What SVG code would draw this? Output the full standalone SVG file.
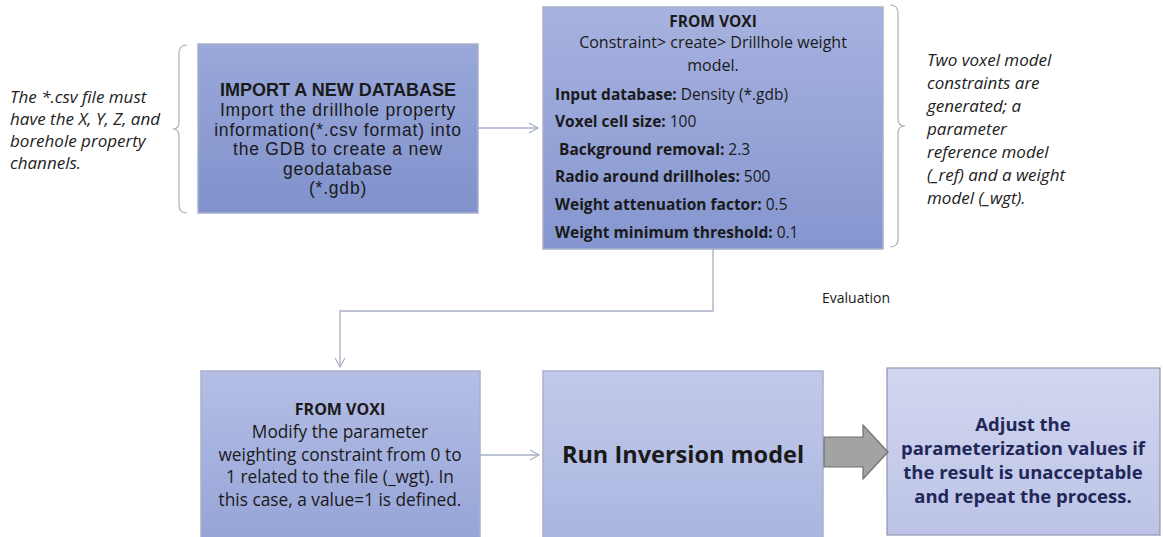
<svg xmlns="http://www.w3.org/2000/svg" width="1163" height="537" viewBox="0 0 1163 537">
<defs>
<linearGradient id="g1" x1="0" y1="0" x2="0" y2="1"><stop offset="0" stop-color="#9aa8da"/><stop offset="1" stop-color="#8092cc"/></linearGradient>
<linearGradient id="g2" x1="0" y1="0" x2="0" y2="1"><stop offset="0" stop-color="#a7b2df"/><stop offset="1" stop-color="#8596cf"/></linearGradient>
<linearGradient id="g3" x1="0" y1="0" x2="0" y2="1"><stop offset="0" stop-color="#b5bee5"/><stop offset="1" stop-color="#95a4d7"/></linearGradient>
<linearGradient id="g4" x1="0" y1="0" x2="0" y2="1"><stop offset="0" stop-color="#c3c9ea"/><stop offset="1" stop-color="#a9b5e0"/></linearGradient>
<linearGradient id="g5" x1="0" y1="0" x2="0" y2="1"><stop offset="0" stop-color="#d2d6ef"/><stop offset="1" stop-color="#bcc3e6"/></linearGradient>
<marker id="arr" markerWidth="12" markerHeight="12" refX="10" refY="6" orient="auto" markerUnits="userSpaceOnUse"><path d="M1,1 L10,6 L1,11" fill="none" stroke="#a7aec6" stroke-width="1.2"/></marker>
<style>
.box{stroke:#a9b0cc;stroke-width:1.5}
.t{font-family:"Open Sans","Liberation Sans",sans-serif;fill:#1a1a1a}
.l{font-family:"Liberation Sans",Arial,sans-serif;fill:#1a1a1a}
.c{text-anchor:middle}
.b{font-weight:bold}
.it{font-family:"Open Sans","Liberation Sans",sans-serif;font-style:italic;fill:#222;font-size:17px}
.con{fill:none;stroke:#a7aec6;stroke-width:1.3}
.br{fill:none;stroke:#b0b0b0;stroke-width:1.2}
.adj{fill:#1f2858;font-size:18.5px}
</style>
</defs>
<rect width="1163" height="537" fill="#ffffff"/>

<g id="note-left">
<path class="br" d="M187,45 Q179,45 179,53 L179,122 Q179,129 173,129 Q179,129 179,136 L179,205 Q179,213 187,213"/>
<text class="it" x="10" y="103">The *.csv file must</text>
<text class="it" x="10" y="125">have the X, Y, Z, and</text>
<text class="it" x="10" y="147">borehole property</text>
<text class="it" x="10" y="169">channels.</text>
</g>

<g id="node-import">
<rect class="box" x="198" y="44" width="280" height="169" fill="url(#g1)"/>
<text class="l c b" x="338" y="96" font-size="18">IMPORT A NEW DATABASE</text>
<text class="l c" x="338" y="116" font-size="17.5" letter-spacing="0.8">Import the drillhole property</text>
<text class="l c" x="338" y="135.5" font-size="17.5" letter-spacing="0.8">information(*.csv format) into</text>
<text class="l c" x="338" y="155" font-size="17.5" letter-spacing="0.8">the GDB to create a new</text>
<text class="l c" x="338" y="174.5" font-size="17.5" letter-spacing="0.8">geodatabase</text>
<text class="l c" x="338" y="194" font-size="17.5" letter-spacing="0.8">(*.gdb)</text>
</g>

<g id="node-voxi1">
<rect class="box" x="543" y="7" width="340" height="242" fill="url(#g2)"/>
<text class="t c b" x="713" y="27" font-size="15.5">FROM VOXI</text>
<text class="t c" x="713" y="48" font-size="16">Constraint&gt; create&gt; Drillhole weight</text>
<text class="t c" x="713" y="71" font-size="16">model.</text>
<text class="t" x="555" y="100" font-size="15.5"><tspan font-weight="bold">Input database:</tspan> Density (*.gdb)</text>
<text class="t" x="555" y="127" font-size="15.5"><tspan font-weight="bold">Voxel cell size:</tspan> 100</text>
<text class="t" x="559" y="155" font-size="15.5"><tspan font-weight="bold">Background removal:</tspan> 2.3</text>
<text class="t" x="555" y="182" font-size="15.5"><tspan font-weight="bold">Radio around drillholes:</tspan> 500</text>
<text class="t" x="555" y="210" font-size="15.5"><tspan font-weight="bold">Weight attenuation factor:</tspan> 0.5</text>
<text class="t" x="555" y="238" font-size="15.5"><tspan font-weight="bold">Weight minimum threshold:</tspan> 0.1</text>
</g>

<g id="note-right">
<path class="br" d="M890,5 Q898,5 898,13 L898,119 Q898,126 905,126 Q898,126 898,133 L898,239 Q898,247 890,247"/>
<text class="it" x="927" y="66">Two voxel model</text>
<text class="it" x="927" y="89">constraints are</text>
<text class="it" x="927" y="112">generated; a</text>
<text class="it" x="927" y="135">parameter</text>
<text class="it" x="927" y="158">reference model</text>
<text class="it" x="927" y="181">(_ref) and a weight</text>
<text class="it" x="927" y="204">model (_wgt).</text>
</g>

<g id="node-voxi2">
<rect class="box" x="201" y="371" width="279" height="172" fill="url(#g3)"/>
<text class="t c b" x="340" y="415" font-size="16">FROM VOXI</text>
<text class="t c" x="340" y="438" font-size="17.3">Modify the parameter</text>
<text class="t c" x="340" y="460.5" font-size="17.3">weighting constraint from 0 to</text>
<text class="t c" x="340" y="483" font-size="17.3">1 related to the file (_wgt). In</text>
<text class="t c" x="340" y="505.5" font-size="17.3">this case, a value=1 is defined.</text>
</g>

<g id="node-run">
<rect class="box" x="543" y="371" width="280" height="172" fill="url(#g4)"/>
<text class="t c b" x="683" y="463" font-size="23.5" fill="#111">Run Inversion model</text>
</g>

<g id="node-adjust">
<rect x="887" y="368" width="273" height="167" fill="url(#g5)" stroke="#9095ad" stroke-width="1.2"/>
<text class="t c b adj" x="1023" y="431">Adjust the</text>
<text class="t c b adj" x="1023" y="455">parameterization values if</text>
<text class="t c b adj" x="1023" y="479">the result is unacceptable</text>
<text class="t c b adj" x="1023" y="503">and repeat the process.</text>
</g>

<g id="connectors">
<line class="con" x1="478" y1="128" x2="538" y2="128" marker-end="url(#arr)"/>
<path class="con" d="M713,249 L713,311 L340,311 L340,367" marker-end="url(#arr)"/>
<line class="con" x1="480" y1="455" x2="539" y2="455" marker-end="url(#arr)"/>
<path d="M824,437 L863,437 L863,425 L888,452 L863,479 L863,467 L824,467 Z" fill="#a3a3a3" stroke="#6f6f6f" stroke-width="1.2"/>
<text class="t" x="822" y="303" font-size="14" fill="#444">Evaluation</text>
</g>
</svg>
